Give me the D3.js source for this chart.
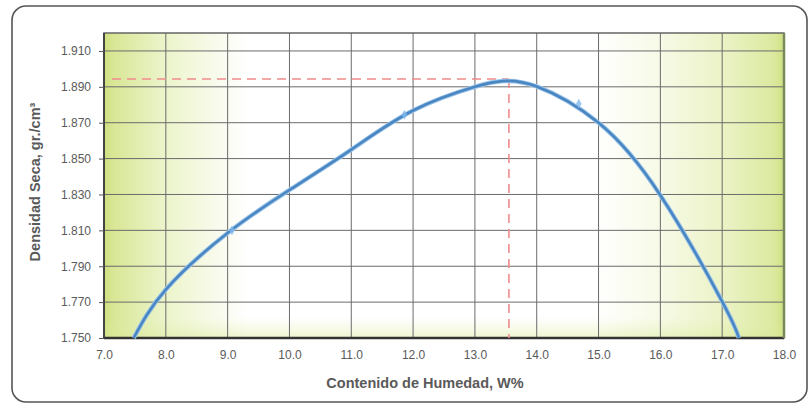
<!DOCTYPE html>
<html><head><meta charset="utf-8">
<script src="https://cdn.jsdelivr.net/npm/d3@7"></script>
<style>body{margin:0;background:#fff}svg{display:block}</style>
</head><body>
<script>
// ---- data ----
const xTicks = [7,8,9,10,11,12,13,14,15,16,17,18];
const yTicks = [1.750,1.770,1.790,1.810,1.830,1.850,1.870,1.890,1.910];
const curveW = [7.48,8.0,9.0,10.0,11.0,12.0,13.0,13.45,14.0,15.0,16.0,17.0,17.27];
const curveD = [1.750,1.777,1.8085,1.8325,1.855,1.8768,1.8900,1.8932,1.8902,1.8700,1.8296,1.7703,1.750];
const pointW = [9.07,11.86,14.68];
const pointD = [1.810,1.8745,1.8806];
const optW = 13.55, optD = 1.8944;
const xTitle = "Contenido de Humedad, W%";
const yTitle = "Densidad Seca, gr./cm³";

const W=810,H=407;
const svg=d3.select("body").append("svg").attr("width",W).attr("height",H);
const m={l:104,r:784,t:33,b:338};
const x=d3.scaleLinear().domain([7,18]).range([m.l,m.r]);
const y=d3.scaleLinear().domain([1.75,1.92]).range([m.b,m.t]);

// outer frame
svg.append("rect").attr("x",12).attr("y",6).attr("width",795).attr("height",396)
  .attr("rx",14).attr("fill","#fff").attr("stroke","#555").attr("stroke-width",1.6);

const defs=svg.append("defs");
const g1=defs.append("linearGradient").attr("id","bg").attr("x1","0").attr("x2","1").attr("y1","0").attr("y2","0");
[[0,"#cfe07e"],[0.015,"#d9e797"],[0.09,"#ecf4cb"],[0.21,"#ffffff"],[0.72,"#ffffff"],[0.82,"#f6fae6"],[0.91,"#ebf3c6"],[0.985,"#dbe99f"],[1,"#cfe083"]]
  .forEach(s=>g1.append("stop").attr("offset",s[0]).attr("stop-color",s[1]));
const g2=defs.append("linearGradient").attr("id","bgb").attr("x1","0").attr("x2","0").attr("y1","0").attr("y2","1");
[[0,"#ffffff",0],[0.93,"#e6f0b4",0],[1,"#d8e895",0.45]]
  .forEach(s=>g2.append("stop").attr("offset",s[0]).attr("stop-color",s[1]).attr("stop-opacity",s[2]));

svg.append("rect").attr("x",m.l).attr("y",m.t).attr("width",m.r-m.l).attr("height",m.b-m.t).attr("fill","url(#bg)");
svg.append("rect").attr("x",m.l).attr("y",m.t).attr("width",m.r-m.l).attr("height",m.b-m.t).attr("fill","url(#bgb)");

// grid
const grid=svg.append("g").attr("stroke","#6b6b6b").attr("stroke-width",1);
grid.selectAll("line.v").data(xTicks.slice(1,-1)).join("line")
  .attr("x1",d=>x(d)).attr("x2",d=>x(d)).attr("y1",m.t).attr("y2",m.b);
grid.selectAll("line.h").data(yTicks.slice(1)).join("line")
  .attr("x1",m.l).attr("x2",m.r).attr("y1",d=>y(d)).attr("y2",d=>y(d));

// plot frame
svg.append("rect").attr("x",m.l).attr("y",m.t).attr("width",m.r-m.l).attr("height",m.b-m.t)
  .attr("fill","none").attr("stroke","#666").attr("stroke-width",1.5);
svg.append("line").attr("x1",m.l).attr("x2",m.r).attr("y1",m.b).attr("y2",m.b).attr("stroke","#333").attr("stroke-width",2.5);
svg.append("line").attr("x1",m.l).attr("x2",m.l).attr("y1",m.t).attr("y2",m.b).attr("stroke","#444").attr("stroke-width",2);
svg.append("line").attr("x1",m.r).attr("x2",m.r).attr("y1",m.t).attr("y2",m.b).attr("stroke","#7a8a5a").attr("stroke-width",2.5);

// axes
const fmtY=d3.format(".3f"), fmtX=d3.format(".1f");
const ya=svg.append("g").attr("transform",`translate(${m.l},0)`)
  .call(d3.axisLeft(y).tickValues(yTicks).tickFormat(fmtY).tickSize(5).tickPadding(8));
const xa=svg.append("g").attr("transform",`translate(0,${m.b})`)
  .call(d3.axisBottom(x).tickValues(xTicks).tickFormat(fmtX).tickSize(0).tickPadding(12));
[ya,xa].forEach(a=>{
  a.select(".domain").remove();
  a.selectAll("line").attr("stroke","#555");
  a.selectAll("text").attr("fill","#5a5a5a").attr("font-family","Liberation Sans, Arial, sans-serif").attr("font-size",12);
});

// optimum dashed lines
const dash=svg.append("g").attr("stroke","#f08c8c").attr("stroke-width",1.6).attr("stroke-dasharray","9,6").attr("fill","none");
dash.append("line").attr("x1",x(7)+8).attr("x2",x(optW)).attr("y1",y(optD)).attr("y2",y(optD));
dash.append("line").attr("x1",x(optW)).attr("x2",x(optW)).attr("y1",y(optD)).attr("y2",m.b);

// curve
const pts=curveW.map((w,i)=>[w,curveD[i]]);
const line=d3.line().x(d=>x(d[0])).y(d=>y(d[1])).curve(d3.curveNatural);
svg.append("path").datum(pts).attr("d",line).attr("fill","none").attr("stroke","#9cc6ea").attr("stroke-width",4.5);
svg.append("path").datum(pts).attr("d",line).attr("fill","none").attr("stroke","#4a86c2").attr("stroke-width",2.6);

// points
svg.selectAll("path.pt").data(pointW.map((w,i)=>[w,pointD[i]])).join("path")
  .attr("d",d3.symbol(d3.symbolDiamond,28))
  .attr("transform",d=>`translate(${x(d[0])},${y(d[1])})`)
  .attr("fill","#7fb9ec").attr("opacity",0.8);

// titles
svg.append("text").attr("x",425).attr("y",388).attr("text-anchor","middle")
  .attr("font-family","Liberation Sans, Arial, sans-serif").attr("font-weight","bold").attr("font-size",14.5)
  .attr("fill","#5a5a5a").text(xTitle);
svg.append("text").attr("transform","translate(40,182) rotate(-90)").attr("text-anchor","middle")
  .attr("font-family","Liberation Sans, Arial, sans-serif").attr("font-weight","bold").attr("font-size",14.5)
  .attr("fill","#5a5a5a").text(yTitle);
</script>
</body></html>
